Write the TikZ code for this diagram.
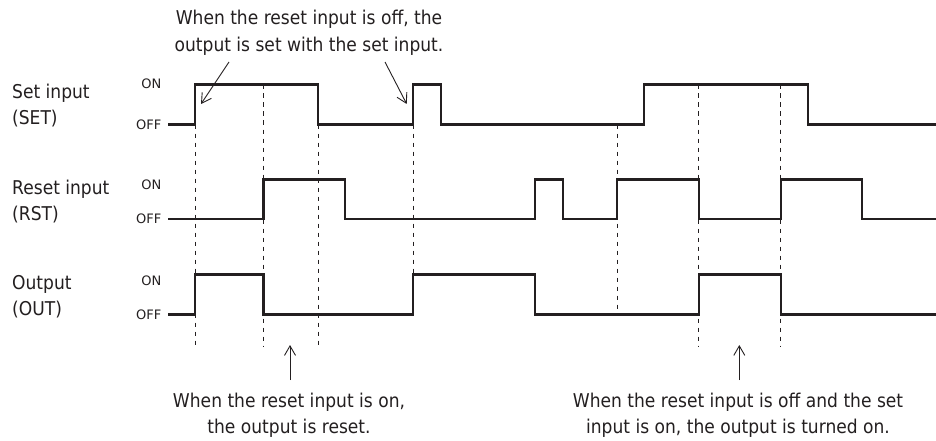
\documentclass[tikz,border=0pt]{standalone}
\usepackage{fontspec}
\setmainfont[FakeStretch=0.9]{DejaVu Sans}
\newfontfamily\levfont{DejaVu Sans}
\usetikzlibrary{arrows.meta}
\definecolor{ink}{HTML}{231F20}
\tikzset{
  sig/.style={line width=2.2pt, draw=ink, line join=miter},
  guide/.style={line width=0.9pt, draw=ink, dash pattern=on 4.5pt off 4.5pt},
  lbl/.style={inner sep=0pt, text=ink, font=\fontsize{19}{26}\selectfont},
  lev/.style={inner sep=0pt, text=ink, font=\levfont\fontsize{13}{15}\selectfont, anchor=base east},
  arr/.style={line width=0.9pt, draw=ink, -{Straight Barb[length=9.5pt,width=11pt,line width=0.9pt]}}
}
\begin{document}
\begin{tikzpicture}[x=1pt,y=-1pt]
\useasboundingbox (0,0) rectangle (936,441);

% row labels
\node[lbl, anchor=base west] (setA) at (12,99) {Set input};
\node[lbl, anchor=base west] (setB) at (12,124.5) {(SET)};
\node[lbl, anchor=base west] (rstA) at (12,194) {Reset input};
\node[lbl, anchor=base west] (rstB) at (12,220) {(RST)};
\node[lbl, anchor=base west] (outA) at (12,289.3) {Output};
\node[lbl, anchor=base west] (outB) at (12,315) {(OUT)};

% ON / OFF
\node[lev] (on1) at (161.5,88.3) {ON};
\node[lev] (off1) at (161.5,129.3) {OFF};
\node[lev] (on2) at (161.5,189.3) {ON};
\node[lev] (off2) at (161.5,223.3) {OFF};
\node[lev] (on3) at (161.5,285) {ON};
\node[lev] (off3) at (161.5,319.3) {OFF};

% dashed guides
\draw[guide] (195,124.5) -- (195,346);
\draw[guide] (263.5,84.5) -- (263.5,346);
\draw[guide] (318,124.5) -- (318,346);
\draw[guide] (413,124.5) -- (413,274.5);
\draw[guide] (617,124.5) -- (617,314.5);
\draw[guide] (698.7,84.5) -- (698.7,346);
\draw[guide] (780.7,84.5) -- (780.7,346);

% SET signal
\draw[sig] (168,124.5) -- (195,124.5) -- (195,84.5) -- (318,84.5) -- (318,124.5)
  -- (413,124.5) -- (413,84.5) -- (441,84.5) -- (441,124.5)
  -- (644,124.5) -- (644,84.5) -- (807.7,84.5) -- (807.7,124.5) -- (937,124.5);
% RST signal
\draw[sig] (168,219) -- (263.5,219) -- (263.5,179.5) -- (345,179.5) -- (345,219)
  -- (535.3,219) -- (535.3,179.5) -- (562.7,179.5) -- (562.7,219)
  -- (617,219) -- (617,179.5) -- (698.7,179.5) -- (698.7,219)
  -- (780.7,219) -- (780.7,179.5) -- (862.3,179.5) -- (862.3,219) -- (937,219);
% OUT signal
\draw[sig] (168,314.5) -- (195,314.5) -- (195,274.5) -- (263.5,274.5) -- (263.5,314.5)
  -- (413,314.5) -- (413,274.5) -- (535.3,274.5) -- (535.3,314.5)
  -- (698.7,314.5) -- (698.7,274.5) -- (780.7,274.5) -- (780.7,314.5) -- (937,314.5);

% top annotation
\node[lbl, anchor=base] (topA) at (309,25) {When the reset input is off, the};
\node[lbl, anchor=base] (topB) at (309,51.5) {output is set with the set input.};
\coordinate (ta1) at (229,62);
\coordinate (tb1) at (201,104);
\coordinate (ta2) at (385,62);
\coordinate (tb2) at (406.7,104);
\draw[arr] (ta1) -- (tb1);
\draw[arr] (ta2) -- (tb2);

% bottom annotations
\node[lbl, anchor=base] (b1A) at (289,407.3) {When the reset input is on,};
\node[lbl, anchor=base] (b1B) at (289,433.3) {the output is reset.};
\coordinate (ba1) at (290,380);
\coordinate (bb1) at (290,345);
\draw[arr] (ba1) -- (bb1);

\node[lbl, anchor=base] (b2A) at (738,407.3) {When the reset input is off and the set};
\node[lbl, anchor=base] (b2B) at (738,433.3) {input is on, the output is turned on.};
\coordinate (ba2) at (739.3,380);
\coordinate (bb2) at (739.3,345);
\draw[arr] (ba2) -- (bb2);
\end{tikzpicture}
\end{document}
